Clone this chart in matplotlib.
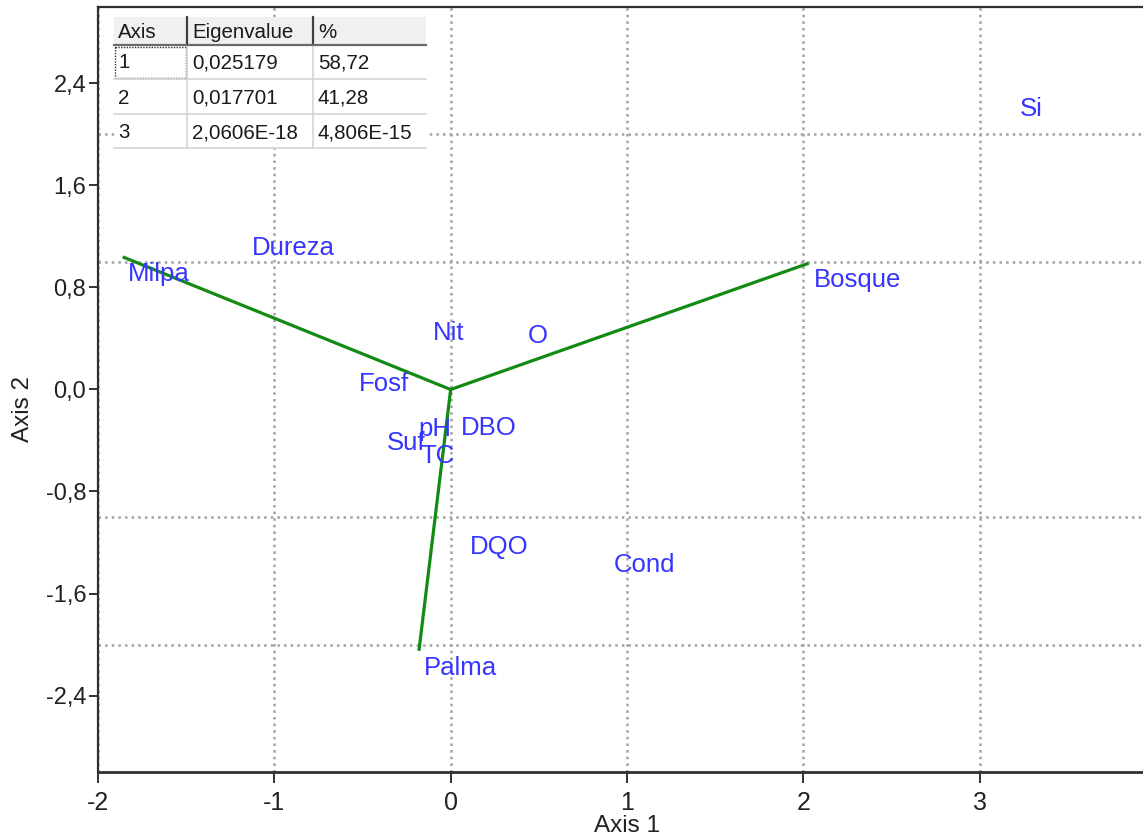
import matplotlib
matplotlib.use("Agg")
import matplotlib.pyplot as plt
from matplotlib.ticker import FixedLocator, FuncFormatter
from matplotlib.patches import Rectangle

plt.rcParams['font.family'] = ['Liberation Sans', 'DejaVu Sans']

# Eigenvalue summary table
table_header = ["Axis", "Eigenvalue", "%"]
axis_ids = ["1", "2", "3"]
eigenvalues = ["0,025179", "0,017701", "2,0606E-18"]
percent = ["58,72", "41,28", "4,806E-15"]

# Sample scores (joined to the origin)
samples = ["Milpa", "Bosque", "Palma"]
sample_x = [-1.86, 2.03, -0.18]
sample_y = [1.04, 0.99, -2.05]

# Variable scores
variables = ["Si", "Dureza", "Nit", "O", "Fosf", "pH", "DBO", "Suf", "TC", "DQO", "Cond"]
var_x = [3.20, -1.155, -0.13, 0.41, -0.55, -0.21, 0.03, -0.39, -0.20, 0.08, 0.895]
var_y = [2.33, 1.24, 0.575, 0.55, 0.18, -0.18, -0.17, -0.29, -0.39, -1.105, -1.24]

# Axis ticks and grid positions
x_ticks = [-2, -1, 0, 1, 2, 3]
y_ticks = [-2.4, -1.6, -0.8, 0.0, 0.8, 1.6, 2.4]
y_grid = [-2, -1, 0, 1, 2]

W, H = 1143, 839
fig = plt.figure(figsize=(W / 100, H / 100), dpi=100)
fig.patch.set_facecolor("white")

left, right, bottom, top = 98, 1156, 772, 7
ax = fig.add_axes([left / W, 1 - bottom / H, (right - left) / W, (bottom - top) / H])
ax.set_xlim(-2.0, 4.0)
ax.set_ylim(-3.0, 3.0)

spine_col = "#303030"
for side in ("left", "bottom", "top"):
    ax.spines[side].set_color(spine_col)
    ax.spines[side].set_linewidth(1.6)
ax.spines["bottom"].set_linewidth(2.0)
ax.spines["right"].set_visible(False)

ax.xaxis.set_major_locator(FixedLocator(x_ticks))
ax.yaxis.set_major_locator(FixedLocator(y_ticks))
ax.yaxis.set_minor_locator(FixedLocator(y_grid))
ax.xaxis.set_major_formatter(FuncFormatter(lambda v, p: "%d" % round(v)))
ax.yaxis.set_major_formatter(FuncFormatter(lambda v, p: ("%.1f" % v).replace(".", ",")))

ax.tick_params(axis="x", which="major", direction="out", length=8, width=1.4,
               color=spine_col, labelsize=18, pad=6, labelcolor="#222222")
ax.tick_params(axis="y", which="major", direction="out", length=6.5, width=1.4,
               color=spine_col, labelsize=17, pad=2, labelcolor="#222222")
ax.tick_params(axis="y", which="minor", length=0)
ax.tick_params(top=False, right=False)

grid_style = dict(color="#a2a2a2", linewidth=1.8, linestyle=(0, (1.0, 1.65)))
ax.xaxis.grid(True, which="major", **grid_style)
ax.yaxis.grid(True, which="minor", **grid_style)
ax.yaxis.grid(False, which="major")
ax.set_axisbelow(True)

ax.set_xlabel("Axis 1", fontsize=17.5, color="#222222", labelpad=0)
ax.set_ylabel("Axis 2", fontsize=17.5, color="#222222")
ax.yaxis.set_label_coords(-0.0603, 0.475)

# Biplot lines from the origin to each sample
line_col = "#138a13"
for sx, sy in zip(sample_x, sample_y):
    ax.plot([0, sx], [0, sy], color=line_col, linewidth=2.3, solid_capstyle="butt", zorder=3)

text_col = "#3535ff"
for name, sx, sy in zip(samples, sample_x, sample_y):
    ax.annotate(name, (sx, sy), xytext=(3.6, -3.6), textcoords="offset points",
                ha="left", va="top", fontsize=18.5, color=text_col, zorder=4)
for name, vx, vy in zip(variables, var_x, var_y):
    ax.annotate(name, (vx, vy), xytext=(3.6, -3.6), textcoords="offset points",
                ha="left", va="top", fontsize=18.5, color=text_col, zorder=4)

# Eigenvalue table in pixel coordinates
tb = fig.add_axes([0, 0, 1, 1], zorder=5)
tb.set_xlim(0, W)
tb.set_ylim(H, 0)
tb.axis("off")
tb.patch.set_visible(False)

col_x = [114, 187, 313, 426]
row_y = [17, 45, 79, 114, 148]
tb.add_patch(Rectangle((col_x[0], row_y[1]), col_x[-1] - col_x[0], row_y[-1] - row_y[1],
                       facecolor="white", edgecolor="none"))
tb.add_patch(Rectangle((col_x[0], row_y[0]), col_x[-1] - col_x[0], row_y[1] - row_y[0],
                       facecolor="#f0f0f0", edgecolor="none"))
for cx in col_x[1:3]:
    tb.plot([cx, cx], [row_y[0], row_y[1]], color="#404040", linewidth=1.6)
    tb.plot([cx, cx], [row_y[1], row_y[-1]], color="#d4d4d4", linewidth=1.2)
tb.plot([col_x[0], col_x[-1]], [row_y[1], row_y[1]], color="#6a6a6a", linewidth=1.6)
for ry in row_y[2:]:
    tb.plot([col_x[0], col_x[-1]], [ry, ry], color="#d4d4d4", linewidth=1.2)
tb.add_patch(Rectangle((col_x[0] + 1, row_y[1] + 2), col_x[1] - col_x[0] - 2, row_y[2] - row_y[1] - 3,
                       facecolor="none", edgecolor="#333333", linewidth=1.0, linestyle=(0, (1, 1))))

text_x = [118, 192, 318]
header_y = 32
row_centers = [63, 98, 133]
for tx, label in zip(text_x, table_header):
    tb.text(tx, header_y, label, ha="left", va="center", fontsize=14.8, color="#1a1a1a")
for ry, a, e, p in zip(row_centers, axis_ids, eigenvalues, percent):
    for tx, label in zip(text_x, (a, e, p)):
        tb.text(tx, ry, label, ha="left", va="center", fontsize=14.8, color="#1a1a1a")

fig.savefig("out.png", dpi=100, facecolor="white")
